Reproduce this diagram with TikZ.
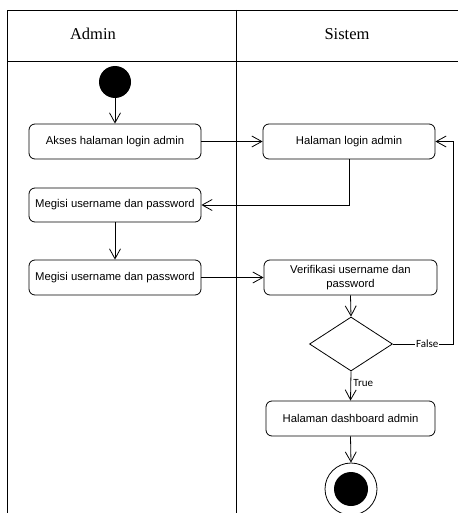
\documentclass[tikz,border=0pt]{standalone}
\usepackage{fontspec}
\setmainfont{Liberation Serif}
\setsansfont{Liberation Sans}
\newfontfamily\lblfont{Carlito}
\usetikzlibrary{arrows.meta,shapes.geometric}
\begin{document}
\begin{tikzpicture}[x=1pt,y=-1pt,
  line width=0.8pt,
  act/.style={draw, rounded corners=6pt, minimum height=35pt, align=center,
    font=\sffamily\fontsize{11.3}{14}\selectfont, inner sep=2pt},
  flow/.style={-{Straight Barb[length=10pt,width=11pt,line width=0.8pt]}},
  lbl/.style={font=\lblfont\fontsize{11}{12}\selectfont, inner sep=1pt},
  lane/.style={font=\fontsize{16.5}{18}\selectfont}]
\useasboundingbox (0,0) rectangle (457,513);
\fill[white] (0,0) rectangle (457,513);
% swimlane frame
\draw (7,513) -- (7,10) -- (458,10);
\draw (7,61) -- (458,61);
\draw (236,10) -- (236,513);
\node[lane] (hA) at (93,34) {Admin};
\node[lane] (hS) at (347,34) {Sistem};
% nodes
\node[circle, fill=black, minimum size=32pt, inner sep=0pt] (start) at (115,82) {};
\node[act, minimum width=172pt] (a1) at (115,141.5) {Akses halaman login admin};
\node[act, minimum width=172pt] (s1) at (349,141.5) {Halaman login admin};
\node[act, minimum width=172pt, minimum height=34pt] (a2) at (115,205) {Megisi username dan password};
\node[act, minimum width=172pt] (a3) at (115,277.5) {Megisi username dan password};
\node[act, minimum width=173pt] (s2) at (350.5,277.5) {Verifikasi username dan\\password};
\node[draw, diamond, inner sep=0pt, aspect=1.537, minimum width=83pt, minimum height=54pt] (d) at (351,344) {};
\node[act, minimum width=169pt] (s3) at (350.5,418.5) {Halaman dashboard admin};
\node[circle, draw, minimum size=52pt, inner sep=0pt] (end) at (351,489) {};
\node[circle, fill=black, minimum size=34pt, inner sep=0pt] (endin) at (351,489) {};
\coordinate (fx) at (453,0);
% connectors
\draw[flow] (start) -- (a1);
\draw[flow] (a1) -- (s1);
\draw[flow] (s1.south) |- (a2.east);
\draw[flow] (a2) -- (a3);
\draw[flow] (a3) -- (s2);
\draw[flow] (s2.south) -- (d.north);
\draw[flow] (d.east) -- node[lbl, fill=white, pos=0.57] (fl) {False} (d.east -| fx) |- (s1.east);
\draw[flow] (d.south) -- (s3.north);
\node[lbl, anchor=west] (tl) at (352,383) {True};
\draw[flow] (s3.south) -- (end.north);
\end{tikzpicture}
\end{document}
